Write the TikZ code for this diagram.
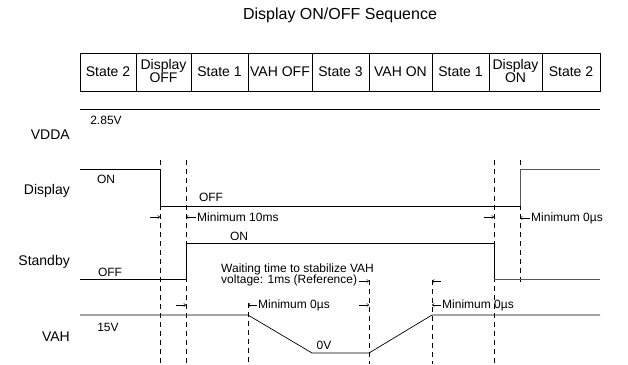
\documentclass[tikz,border=0pt]{standalone}
\usepackage{fontspec}
\setmainfont{Liberation Sans}
\usetikzlibrary{arrows.meta}

\begin{document}
\begin{tikzpicture}[x=1pt,y=-1pt,
  sig/.style={line width=0.7pt},
  guide/.style={line width=0.6pt,dash pattern=on 5pt off 4pt},
  tick/.style={line width=0.6pt,-{To[length=2.5pt,width=3.5pt]}},
  rowlbl/.style={anchor=east,inner sep=0pt,font=\fontsize{14}{16}\selectfont},
  cell/.style={inner sep=0pt,align=center,font=\fontsize{14}{12.5}\selectfont},
  lvl/.style={inner sep=0pt,font=\fontsize{12}{14}\selectfont},
  note/.style={inner sep=1pt,anchor=west,align=left,font=\fontsize{12}{11.5}\selectfont}]

\useasboundingbox (0,0) rectangle (628,364);

\node[font=\fontsize{16}{18}\selectfont] (title) at (340,15) {Display ON/OFF Sequence};

% state table
\draw[line width=0.6pt] (80,53) rectangle (600,91);
\foreach \xc in {136,191,248,312,369,432,489,542}
  \draw[line width=0.6pt] (\xc,53) -- (\xc,91);
\node[cell] (s1) at (108,72) {State 2};
\node[cell] (s2) at (163.5,71) {Display\\OFF};
\node[cell] (s3) at (219.5,72) {State 1};
\node[cell] (s4) at (280,72) {VAH OFF};
\node[cell] (s5) at (340.5,72) {State 3};
\node[cell] (s6) at (400.5,72) {VAH ON};
\node[cell] (s7) at (460.5,72) {State 1};
\node[cell] (s8) at (515.5,71) {Display\\ON};
\node[cell] (s9) at (571,72) {State 2};

% row names
\node[rowlbl] (vdda) at (70,135) {VDDA};
\node[rowlbl] (disp) at (70,191) {Display};
\node[rowlbl] (stby) at (70,262) {Standby};
\node[rowlbl] (vah) at (70,337) {VAH};

% timing guides
\draw[guide] (160,160) -- (160,364);
\draw[guide] (186,160) -- (186,364);
\draw[guide] (248,303) -- (248,364);
\draw[guide] (369,280) -- (369,364);
\draw[guide] (432,280) -- (432,364);
\draw[guide] (494,160) -- (494,364);
\draw[guide] (520,160) -- (520,284);

% signals
\draw[sig] (80,109) -- (600,109);
\draw[sig] (80,169) -- (160,169) -- (160,206) -- (520,206);
\draw[sig,black!65] (520,206) -- (520,169) -- (600,169);
\draw[sig] (80,279) -- (186,279) -- (186,243) -- (494,243) -- (494,279);
\draw[sig,black!65] (494,279) -- (600,279);
\draw[sig] (80,315) -- (248,315) -- (312,353) -- (369,353) -- (432,315) -- (600,315);

% levels
\node[lvl] (v285) at (106,120) {2.85V};
\node[lvl] (don) at (106,179) {ON};
\node[lvl] (doff) at (211,197) {OFF};
\node[lvl] (son) at (239,236) {ON};
\node[lvl] (soff) at (110,272) {OFF};
\node[lvl] (v15) at (108,327) {15V};
\node[lvl] (v0) at (324,345) {0V};

% timing notes
\node[note] (min10) at (196,217) {Minimum 10ms};
\draw[tick] (min10.west) -- (186,217);
\draw[tick] (150,217) -- (160,217);
\node[note] (min0a) at (530,218) {Minimum 0µs};
\draw[tick] (min0a.west) -- (520,218);
\draw[tick] (484,217) -- (494,217);

\node[note] (wait) at (220,275) {Waiting time to stabilize VAH\\voltage: 1ms (Reference)};
\draw[tick] (359,281) -- (369,281);
\draw[tick] (441,281) -- (432,281);

\node[note] (min0b) at (257,305) {Minimum 0µs};
\draw[tick] (min0b.west) -- (248,305);
\draw[tick] (359,305) -- (369,305);
\draw[tick] (176,305) -- (186,305);
\node[note] (min0c) at (441,305) {Minimum 0µs};
\draw[tick] (min0c.west) -- (432,305);

\end{tikzpicture}
\end{document}
